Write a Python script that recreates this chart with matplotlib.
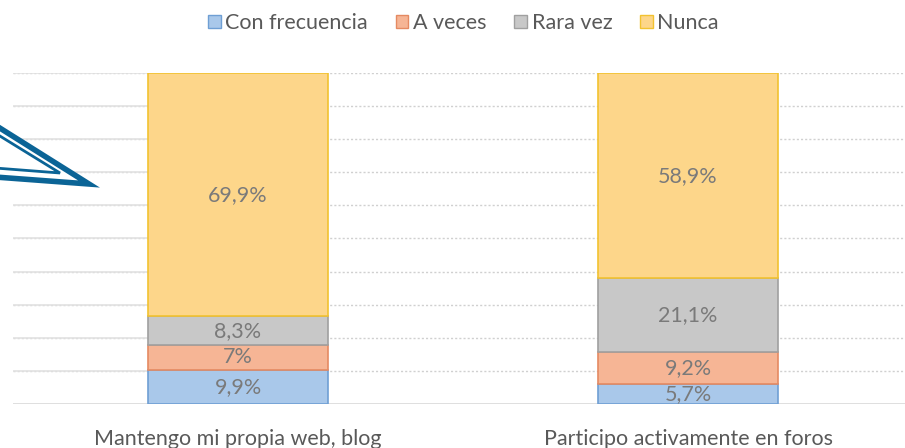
import matplotlib.pyplot as plt
import matplotlib.patches as mpatches
import numpy as np

categories = ["Mantengo mi propia web, blog", "Participo activamente en foros"]
series_names = ["Con frecuencia", "A veces", "Rara vez", "Nunca"]
con_frecuencia = [9.9, 5.7]
a_veces = [7.0, 9.2]
rara_vez = [8.3, 21.1]
nunca = [69.9, 58.9]
labels_con = ["9,9%", "5,7%"]
labels_aveces = ["7%", "9,2%"]
labels_rara = ["8,3%", "21,1%"]
labels_nunca = ["69,9%", "58,9%"]

series = [con_frecuencia, a_veces, rara_vez, nunca]
series_labels = [labels_con, labels_aveces, labels_rara, labels_nunca]
faces = ["#a9c8ea", "#f6b595", "#c8c8c8", "#fdd68a"]
edges = ["#6f9fd4", "#e58a62", "#a0a0a0", "#f2c230"]

plt.rcParams['font.family'] = ['Lato', 'DejaVu Sans']
FS = 15.5

fig = plt.figure(figsize=(9.05, 4.48), dpi=100)
ax = fig.add_axes([13 / 905, 44 / 448, 900 / 905, 331 / 448])

vals = np.array(series, dtype=float)
totals = vals.sum(axis=0)
norm = vals / totals * 100
x = np.arange(len(categories))
width = 0.4

# gridlines
for g in range(10, 101, 10):
    ax.axhline(g, color="#d0d0d0", lw=1, ls=(0, (1.5, 1.5)), zorder=0)
    ax.plot([-0.5, -0.2], [g, g], color="#e2e2e2", lw=1.2, zorder=0.5)
ax.axhline(0, color="#d9d9d9", lw=1.2, zorder=0)

bottom = np.zeros(len(categories))
for i, (name, row) in enumerate(zip(series_names, norm)):
    ax.bar(x, row, width, bottom=bottom, color=faces[i], edgecolor=edges[i],
           linewidth=1.2, label=name, zorder=2)
    for j in range(len(categories)):
        ax.text(x[j], bottom[j] + row[j] / 2, series_labels[i][j], ha="center",
                va="center", fontsize=FS, color="#7a7a7a", zorder=3)
    bottom += row

ax.set_xlim(-0.5, 1.5)
ax.set_ylim(0, 100)
ax.set_yticks([])
ax.set_xticks(x)
ax.set_xticklabels(categories, fontsize=FS, color="#595959")
ax.tick_params(axis="x", length=0, pad=18)
for s in ax.spines.values():
    s.set_visible(False)

handles = [mpatches.Patch(facecolor=faces[i], edgecolor=edges[i], label=series_names[i])
           for i in range(4)]
fig.legend(handles=handles, loc="center", bbox_to_anchor=(0.512, 1 - 23 / 448), ncol=4,
           frameon=False, fontsize=FS, labelcolor="#595959", handlelength=0.6,
           handleheight=0.6, handletextpad=0.2, columnspacing=1.3)

# decorative arrow (figure pixel coordinates)
def px(pts):
    return [(a / 905, 1 - b / 448) for a, b in pts]

outer = mpatches.Polygon(px([(-5, 125), (89, 184), (-5, 177)]), closed=True,
                         transform=fig.transFigure, facecolor="white",
                         edgecolor="#0b6496", lw=4, joinstyle="miter", zorder=5)
inner = mpatches.Polygon(px([(-5, 133), (60, 173), (-5, 168)]), closed=True,
                         transform=fig.transFigure, facecolor="none",
                         edgecolor="#0b6496", lw=2, joinstyle="miter", zorder=6)
fig.patches.extend([outer, inner])

fig.savefig("out.png", dpi=100)
